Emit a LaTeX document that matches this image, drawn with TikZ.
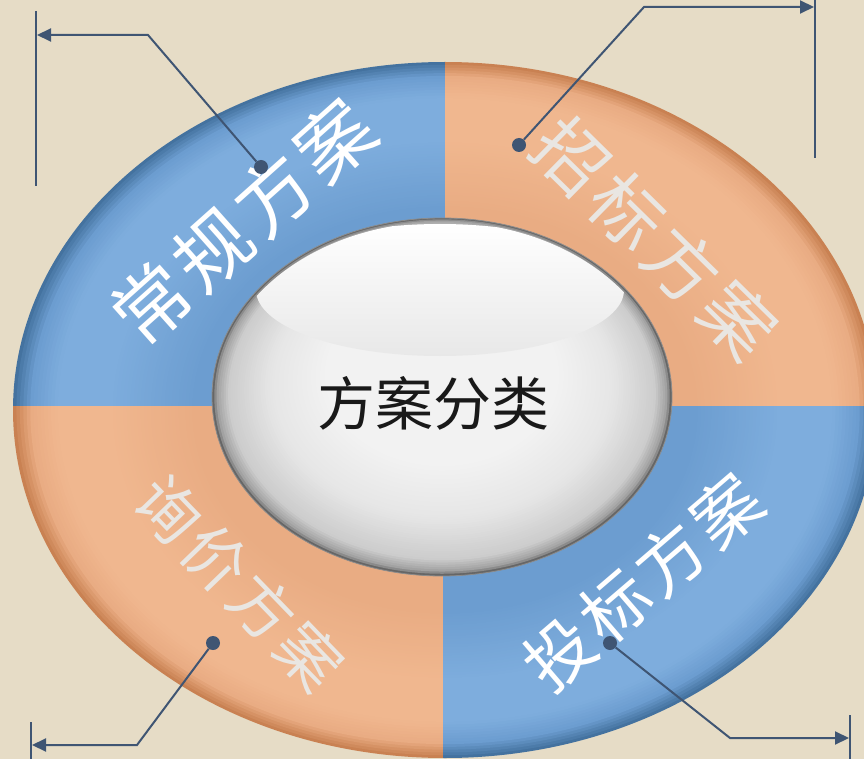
\documentclass[tikz,border=0pt]{standalone}
\usepackage{fontspec}
\newfontfamily\cjk{Noto Sans CJK SC}
\usetikzlibrary{arrows.meta}
\definecolor{bg}{HTML}{E6DCC6}
\definecolor{lc}{HTML}{3F5573}
\definecolor{blM}{HTML}{6C9DD0}
\definecolor{blL}{HTML}{7EADDD}
\definecolor{blD}{HTML}{44729F}
\definecolor{orM}{HTML}{E9AC83}
\definecolor{orL}{HTML}{F0B78F}
\definecolor{orD}{HTML}{C98152}
\definecolor{orlab}{HTML}{E9E6E2}
\newcommand\ringfill[3]{%
  \foreach \ri in {0,...,60}{%
    \pgfmathsetmacro\rs{1-\ri*0.008}%
    \ifdim\rs pt>0.96pt
      \pgfmathsetmacro\rt{(1-\rs)/0.04*100}\colorlet{cur}{#1!\rt!#3}%
    \else\ifdim\rs pt>0.90pt
      \pgfmathsetmacro\rt{(0.96-\rs)/0.06*100}\colorlet{cur}{#2!\rt!#1}%
    \else\ifdim\rs pt>0.78pt
      \colorlet{cur}{#2}%
    \else
      \pgfmathsetmacro\rt{min((0.78-\rs)/0.2,1)*100}\colorlet{cur}{#1!\rt!#2}%
    \fi\fi\fi
    \fill[cur] (C) ellipse [x radius=432pt*\rs, y radius=348pt*\rs];
  }}
\tikzset{
  conn/.style={draw=lc, line width=2pt, -{Triangle[length=14pt,width=13pt]}},
  barline/.style={draw=lc, line width=2pt},
  dotnode/.style={circle, fill=lc, inner sep=0pt, minimum size=14pt},
  ringlabel/.style={inner sep=0pt},
  centerlabel/.style={font=\cjk\fontsize{58}{58}\selectfont, text=black!90, inner sep=0pt}
}
\begin{document}
\begin{tikzpicture}[x=1pt,y=-1pt]
\useasboundingbox (0,0) rectangle (864,759);
\clip (0,0) rectangle (864,759);
\fill[bg] (0,0) rectangle (864,759);
\coordinate (C) at (445,410);
% ring quadrants
\begin{scope}
\clip (0,0) rectangle (445,406);
\ringfill{blM}{blL}{blD}
\end{scope}
\begin{scope}
\clip (445,0) rectangle (864,406);
\ringfill{orM}{orL}{orD}
\end{scope}
\begin{scope}
\clip (0,406) rectangle (443,759);
\ringfill{orM}{orL}{orD}
\end{scope}
\begin{scope}
\clip (443,406) rectangle (864,759);
\ringfill{blM}{blL}{blD}
\end{scope}
% center sphere
\coordinate (S) at (442,397);
\begin{scope}
\clip (S) ellipse [x radius=230pt, y radius=179pt];
\foreach \si in {0,...,70}{%
  \pgfmathsetmacro\ss{1-\si*0.01}%
  \pgfmathsetmacro\sg{\ss>0.985 ? 62-(\ss-0.985)/0.015*22 : (\ss>0.93 ? 80-(\ss-0.93)/0.055*18 : (\ss>0.75 ? 90-(\ss-0.75)/0.18*10 : (\ss>0.5 ? 95-(\ss-0.5)/0.25*5 : 95)))}%
  \pgfmathsetmacro\sy{397-(1-\ss)*45}%
  \fill[white!\sg!black] (442,\sy) ellipse [x radius=230pt*\ss, y radius=179pt*\ss];
}
\clip (S) ellipse [x radius=227pt, y radius=175pt];
\shade[top color=white, bottom color=white!91!black] (440,290) ellipse [x radius=184pt, y radius=66pt];
\end{scope}
\draw[black!45, line width=0.8pt] (S) ellipse [x radius=230pt, y radius=179pt];
\node[centerlabel] (center) at (433,403) {方案分类};
% ring labels
\node[ringlabel, text=white, rotate=41.7, font=\cjk\fontsize{76}{76}\selectfont] (l1) at (243,222) {常\kern6pt 规\kern6pt 方\kern6pt 案};
\node[ringlabel, text=orlab, rotate=-44.5, font=\cjk\fontsize{72}{72}\selectfont] (l2) at (655,238) {招\kern6pt 标\kern6pt 方\kern6pt 案};
\node[ringlabel, text=orlab, rotate=-46, font=\cjk\fontsize{63}{63}\selectfont] (l3) at (239,583) {询\kern5pt 价\kern5pt 方\kern5pt 案};
\node[ringlabel, text=white, rotate=40.6, font=\cjk\fontsize{68}{68}\selectfont] (l4) at (643,582) {投\kern5pt 标\kern5pt 方\kern5pt 案};
% connectors
\node[dotnode] (d1) at (261,167) {};
\node[dotnode] (d2) at (519,145) {};
\node[dotnode] (d3) at (213,643) {};
\node[dotnode] (d4) at (610,643) {};
\coordinate (k1) at (148,35);
\coordinate (k2) at (644,7);
\coordinate (k3) at (137,745);
\coordinate (k4) at (730,738);
\coordinate (a1) at (37,35);
\coordinate (a2) at (814,7);
\coordinate (a3) at (32,745);
\coordinate (a4) at (849,738);
\coordinate (b1t) at (36,11);
\coordinate (b1b) at (36,186);
\coordinate (b2t) at (815,-2);
\coordinate (b2b) at (815,158);
\coordinate (b3t) at (31,722);
\coordinate (b3b) at (31,761);
\coordinate (b4t) at (850,715);
\coordinate (b4b) at (850,761);
\draw[barline] (b1t) -- (b1b);
\draw[barline] (b2t) -- (b2b);
\draw[barline] (b3t) -- (b3b);
\draw[barline] (b4t) -- (b4b);
\draw[conn] (d1) -- (k1) -- (a1);
\draw[conn] (d2) -- (k2) -- (a2);
\draw[conn] (d3) -- (k3) -- (a3);
\draw[conn] (d4) -- (k4) -- (a4);
\end{tikzpicture}
\end{document}
